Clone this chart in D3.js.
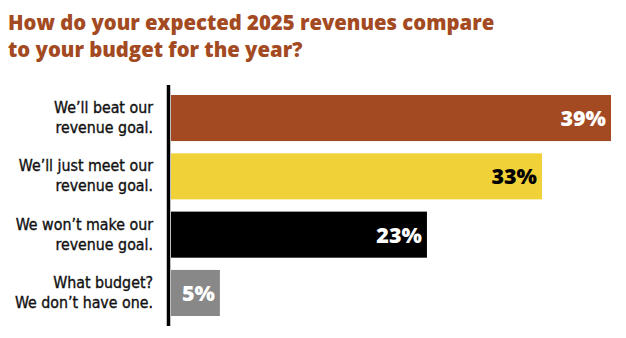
<!DOCTYPE html>
<html>
<head>
<meta charset="utf-8">
<script src="https://cdn.jsdelivr.net/npm/d3@7"></script>
<style>
  body { margin: 0; background: #fff; }
  svg { display: block; }
</style>
</head>
<body>
<div id="chart"></div>
<script>
const titleLines = ['How do your expected 2025 revenues compare', 'to your budget for the year?'];
const answers = [
  ['We\u2019ll beat our', 'revenue goal.'],
  ['We\u2019ll just meet our', 'revenue goal.'],
  ['We won\u2019t make our', 'revenue goal.'],
  ['What budget?', 'We don\u2019t have one.']
];
const shares = [39, 33, 23, 5];
const colors = ['#a34a22', '#f1d138', '#000000', '#888888'];
const labelColors = ['#fff', '#000', '#fff', '#fff'];

const width = 626;
const height = 338;

const svg = d3.select('#chart')
  .append('svg')
  .attr('width', width)
  .attr('height', height);

// title
svg.append('g')
  .selectAll('text')
  .data(titleLines)
  .join('text')
  .attr('x', 8)
  .attr('y', (d, i) => 30 + i * 27)
  .attr('fill', '#a34a22')
  .style('font-family', '"Open Sans", sans-serif')
  .style('font-weight', 800)
  .style('font-size', '20.3px')
  .text((d) => d);

// the bars don't start exactly at 0 in the original
const xScale = d3.scaleLinear().domain([0.75, 39]).range([171, 611]);
const yScale = d3.scaleBand()
  .domain(d3.range(answers.length))
  .range([95, 316])
  .paddingInner(0.21)
  .paddingOuter(0);

const bars = svg.append('g').attr('class', 'bars');

bars.selectAll('rect')
  .data(shares)
  .join('rect')
  .attr('x', 171)
  .attr('y', (d, i) => yScale(i))
  .attr('width', (d) => xScale(d) - 171)
  .attr('height', yScale.bandwidth())
  .attr('fill', (d, i) => colors[i]);

// value labels
bars.selectAll('text')
  .data(shares)
  .join('text')
  .attr('x', (d) => xScale(d) - 5)
  .attr('y', (d, i) => yScale(i) + yScale.bandwidth() / 2 + 8)
  .attr('text-anchor', 'end')
  .attr('fill', (d, i) => labelColors[i])
  .style('font-family', '"Open Sans", sans-serif')
  .style('font-weight', 800)
  .style('font-size', '21.5px')
  .text((d) => d + '%');

// category labels
const labels = svg.append('g').attr('class', 'labels');
answers.forEach((lines, i) => {
  labels.append('text')
    .attr('text-anchor', 'end')
    .attr('fill', '#111')
    .attr('stroke', '#111')
    .attr('stroke-width', 0.35)
    .style('font-family', '"DejaVu Sans Condensed", "Liberation Sans Narrow", sans-serif')
    .style('font-size', '15.8px')
    .selectAll('tspan')
    .data(lines)
    .join('tspan')
    .attr('x', 153)
    .attr('y', (d, j) => yScale(i) + yScale.bandwidth() / 2 - 5 + j * 20)
    .text((d) => d);
});

// axis line
svg.append('line')
  .attr('x1', 168.5)
  .attr('x2', 168.5)
  .attr('y1', 85)
  .attr('y2', 326)
  .attr('stroke', '#000')
  .attr('stroke-width', 3.5);
</script>
</body>
</html>
